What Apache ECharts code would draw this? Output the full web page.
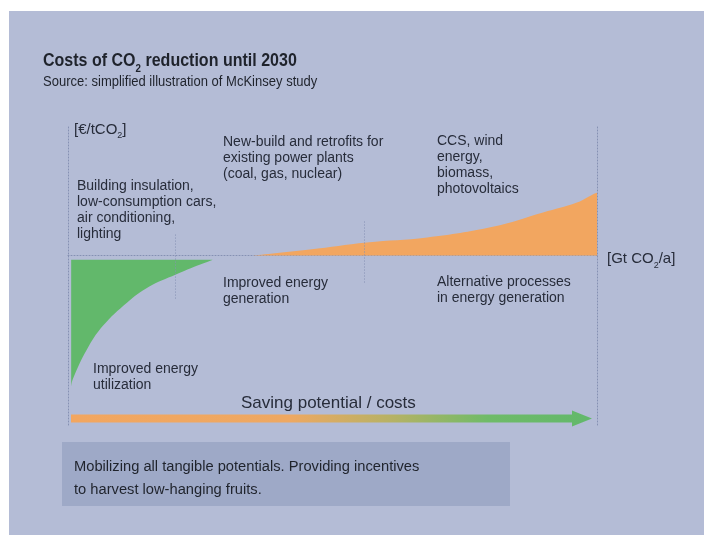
<!DOCTYPE html>
<html><head><meta charset="utf-8">
<script src="https://cdn.jsdelivr.net/npm/echarts@6/dist/echarts.min.js"></script>
<style>
html,body{margin:0;padding:0;background:#fff}
#wrap{position:relative;width:704px;height:535px;overflow:hidden}
#panel{position:absolute;left:9px;top:11px;right:0;bottom:0;background:#b4bcd6}
#c{position:absolute;left:0;top:0;width:704px;height:535px}
</style>
</head><body><div id="wrap"><div id="panel"></div><div id="c"></div></div>
<script>
// Data (x: share of saving potential, y: cost in €/tCO2, schematic)
const greenX = [0.6, 0.9, 3.6, 6.6, 11.2, 15.3, 20.4, 25, 27.4];
const greenY = [-101, -95, -72, -54, -36, -24, -14.6, -7, -3.3];
const orangeX = [35, 45.7, 56.5, 67.9, 80.3, 89.8, 96.2, 99.2, 100];
const orangeY = [0, 4.6, 10, 13.8, 22, 33, 40.6, 46.8, 48];
const dividerX = [20.2, 56];
const dividerTop = [16, 26];
const dividerBottom = [-34, -22];
const arrowY = -125;

const GREEN = '#62b86b', ORANGE = '#f2a660', LINE = '#8590b3', TXT = '#272c3a';
const SANS = '"Liberation Sans", Arial, sans-serif';
const DOT = [1, 2];

const chart = echarts.init(document.getElementById('c'), null, {renderer: 'canvas'});

function pairs(xs, ys) { return xs.map((x, i) => [x, ys[i]]); }

const dividers = dividerX.map((x, i) => [{coord: [x, dividerTop[i]]}, {coord: [x, dividerBottom[i]]}]);

function label(x, y, text, size, lh, sx) {
  return {type: 'text', x: x, y: y, z: 50, scaleX: sx || 1,
    style: {x: 0, y: 0, text: text, fill: TXT, font: size + 'px ' + SANS, lineHeight: lh || Math.round(size * 1.2), verticalAlign: 'top'}};
}

const option = {
  animation: false,
  backgroundColor: 'transparent',
  grid: {left: 68, right: 107, top: 125, bottom: 110},
  xAxis: {type: 'value', min: 0, max: 100, axisLine: {onZero: true, lineStyle: {color: LINE, type: DOT, width: 1}},
    axisTick: {show: false}, axisLabel: {show: false}, splitLine: {show: false}},
  yAxis: [
    {type: 'value', min: -130, max: 100, axisLine: {show: true, lineStyle: {color: LINE, type: DOT}},
      axisTick: {show: false}, axisLabel: {show: false}, splitLine: {show: false}},
    {type: 'value', position: 'right', min: -130, max: 100, axisLine: {show: true, lineStyle: {color: LINE, type: DOT}},
      axisTick: {show: false}, axisLabel: {show: false}, splitLine: {show: false}}
  ],
  series: [
    {type: 'line', data: pairs(greenX, greenY), smooth: 0.4, showSymbol: false, lineStyle: {width: 0},
      areaStyle: {color: GREEN, opacity: 1, origin: -3.3}, z: 1,
      markLine: {silent: true, symbol: 'none', label: {show: false}, lineStyle: {color: LINE, type: DOT, width: 1}, data: dividers}},
    {type: 'line', data: pairs(orangeX, orangeY), smooth: 0.4, showSymbol: false, lineStyle: {width: 0},
      areaStyle: {color: ORANGE, opacity: 1}, z: 1}
  ]
};
chart.setOption(option);

// arrow built from axis coordinates
const p0 = chart.convertToPixel({gridIndex: 0}, [0, arrowY]);
const p1 = chart.convertToPixel({gridIndex: 0}, [100, arrowY]);
const x0 = p0[0] + 3, xt = p1[0] - 5, yc = p0[1], headW = 20;
const grad = new echarts.graphic.LinearGradient(0, 0, 1, 0, [
  {offset: 0, color: ORANGE}, {offset: 0.42, color: '#eea862'}, {offset: 0.62, color: '#b5b265'}, {offset: 0.8, color: '#6fbb68'}, {offset: 1, color: GREEN}]);

chart.setOption({
  graphic: [
    {type: 'polygon', z: 20, shape: {points: [[x0, yc - 4], [xt - headW, yc - 4], [xt - headW, yc - 8], [xt, yc], [xt - headW, yc + 8], [xt - headW, yc + 4], [x0, yc + 4]]},
      style: {fill: grad}},
    {type: 'rect', z: 5, shape: {x: 62, y: 442, width: 448, height: 64}, style: {fill: '#9ea9c7'}},
    {type: 'text', x: 43, y: 49, z: 50, scaleX: 0.89, style: {x: 0, y: 0, verticalAlign: 'top',
      text: '{a|Costs of CO}{s|2}{a| reduction until 2030}',
      rich: {a: {font: 'bold 18px ' + SANS, fill: '#1f232c', lineHeight: 21, verticalAlign: 'bottom'},
             s: {font: 'bold 11px ' + SANS, fill: '#1f232c', lineHeight: 21, verticalAlign: 'bottom', padding: [0, 0, -4, 0]}}}},
    {type: 'text', x: 43, y: 75, z: 50, scaleX: 0.93, style: {x: 0, y: 0, verticalAlign: 'top', text: 'Source: simplified illustration of McKinsey study',
      fill: '#1f232c', font: '14px ' + SANS}},
    {type: 'text', x: 74, y: 119, z: 50, style: {x: 0, y: 0, verticalAlign: 'top',
      text: '{a|[€/tCO}{s|2}{a|]}',
      rich: {a: {font: '15px ' + SANS, fill: TXT, lineHeight: 18, verticalAlign: 'bottom'},
             s: {font: '9px ' + SANS, fill: TXT, lineHeight: 18, verticalAlign: 'bottom', padding: [0, 0, -3, 0]}}}},
    label(223, 134, 'New-build and retrofits for\nexisting power plants\n(coal, gas, nuclear)', 14, 16),
    label(77, 178, 'Building insulation,\nlow-consumption cars,\nair conditioning,\nlighting', 14, 16),
    label(437, 133, 'CCS, wind\nenergy,\nbiomass,\nphotovoltaics', 14, 16),
    label(223, 275, 'Improved energy\ngeneration', 14, 16),
    label(437, 274, 'Alternative processes\nin energy generation', 14, 16),
    label(93, 361, 'Improved energy\nutilization', 14, 16),
    label(241, 393, 'Saving potential / costs', 17, 20),
    {type: 'text', x: 607, y: 247, z: 50, style: {x: 0, y: 0, verticalAlign: 'top',
      text: '{a|[Gt CO}{s|2}{a|/a]}',
      rich: {a: {font: '15px ' + SANS, fill: TXT, lineHeight: 19, verticalAlign: 'bottom'},
             s: {font: '9px ' + SANS, fill: TXT, lineHeight: 19, verticalAlign: 'bottom', padding: [0, 0, -4, 0]}}}},
    {type: 'text', x: 74, y: 455, z: 50, style: {x: 0, y: 0, verticalAlign: 'top', text: 'Mobilizing all tangible potentials. Providing incentives\nto harvest low-hanging fruits.',
      fill: '#1f232c', font: '14.7px ' + SANS, lineHeight: 23}}
  ]
});
</script></body></html>
